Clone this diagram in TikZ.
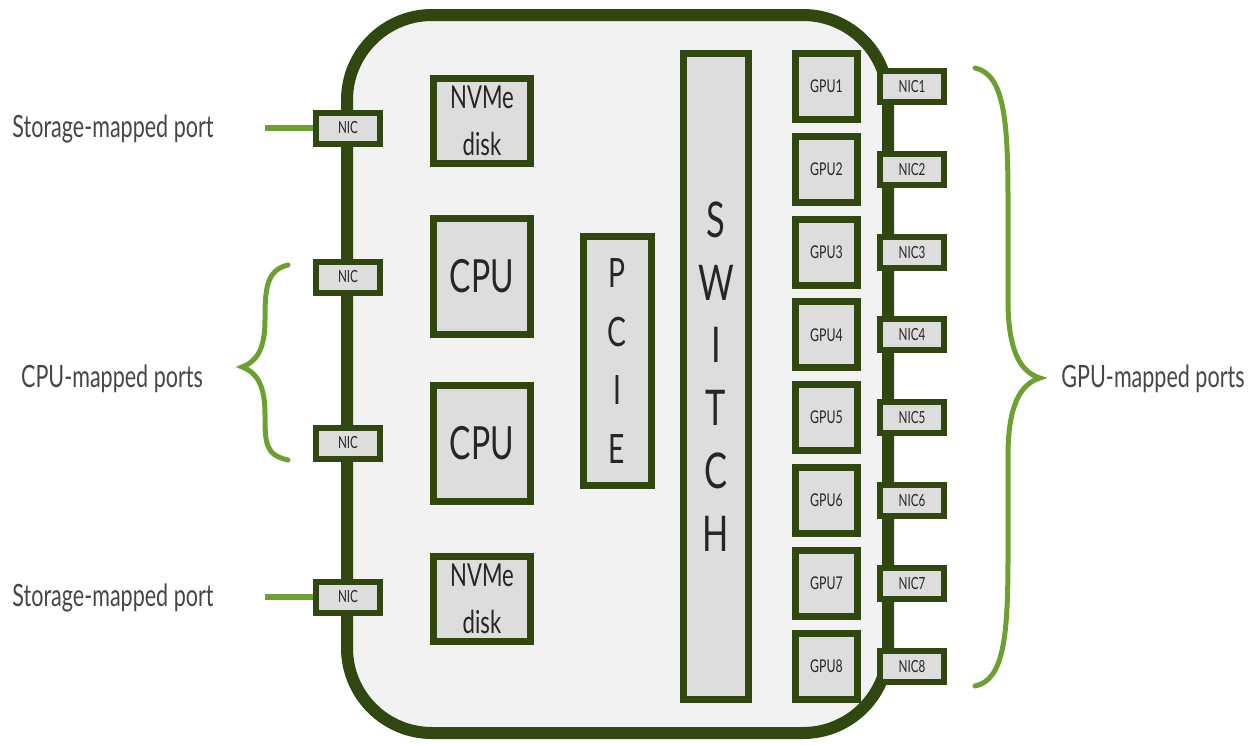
\documentclass[tikz,border=0pt]{standalone}
\usepackage{fontspec}
\setmainfont{Lato}[FakeStretch=0.7]
\usetikzlibrary{positioning}

\definecolor{chassis}{RGB}{48,72,16}
\definecolor{port}{RGB}{108,160,48}
\definecolor{boxfill}{RGB}{221,221,221}
\definecolor{boardfill}{RGB}{242,242,242}
\definecolor{labelgray}{RGB}{70,70,70}

\newlength\pu
\setlength\pu{0.02cm}

\tikzset{
    part/.style={draw=chassis, fill=boxfill, line width=7\pu, inner sep=0pt, align=center, text=black!85},
    nicbox/.style={part, line width=6\pu, minimum width=64\pu, minimum height=31\pu, font=\fontsize{9.5}{9.5}\selectfont},
    gpubox/.style={part, minimum width=62\pu, minimum height=66\pu, font=\fontsize{10}{10}\selectfont},
    portlabel/.style={text=labelgray, anchor=base, font=\fontsize{17.5}{20}\selectfont},
    portline/.style={draw=port, line width=6\pu},
    brace/.style={draw=port, line width=5\pu, line cap=round}
}

\begin{document}
\begin{tikzpicture}[x=\pu, y=-\pu]
    \useasboundingbox (0,0) rectangle (1260,744);
    % Chassis
    \draw[draw=chassis, fill=boardfill, line width=12\pu, rounded corners=85\pu] (347,15) rectangle (888,733);

    % Storage and CPU boxes
    \node[part, minimum width=97\pu, minimum height=85\pu, font=\fontsize{18}{27}\selectfont] (nvme1) at (482,121) {NVMe\\disk};
    \node[part, minimum width=97\pu, minimum height=116\pu, font=\fontsize{26}{26}\selectfont] (cpu1) at (482,276) {CPU};
    \node[part, minimum width=97\pu, minimum height=116\pu, font=\fontsize{26}{26}\selectfont] (cpu2) at (482,443) {CPU};
    \node[part, minimum width=97\pu, minimum height=85\pu, font=\fontsize{18}{27}\selectfont] (nvme2) at (482,599) {NVMe\\disk};

    % PCIe and switch
    \node[part, minimum width=68\pu, minimum height=249\pu, font=\fontsize{23}{33.5}\selectfont] (pcie) at (617,361) {P\\C\\I\\E};
    \node[part, minimum width=65\pu, minimum height=646\pu, font=\fontsize{28}{35.7}\selectfont] (switch) at (716,376.5) {S\\W\\I\\T\\C\\H};

    % GPUs and their NICs
    \foreach \i in {1,...,8} {
        \node[gpubox] (gpu\i) at (826.5, {86.5+(\i-1)*82.8}) {GPU\i};
        \node[nicbox] (nic\i) at (912, {86.5+(\i-1)*82.8}) {NIC\i};
    }

    % Left NICs
    \node[nicbox] (nics1) at (348,128) {NIC};
    \node[nicbox] (nicc1) at (348,277) {NIC};
    \node[nicbox] (nicc2) at (348,443) {NIC};
    \node[nicbox] (nics2) at (348,597) {NIC};

    % Storage ports
    \node[portlabel] (stor1) at (113,137) {Storage-mapped port};
    \node[portlabel] (stor2) at (113,606) {Storage-mapped port};
    \coordinate (portend1) at (265,128);
    \coordinate (portend2) at (265,597);
    \draw[portline] (portend1) -- (nics1.west);
    \draw[portline] (portend2) -- (nics2.west);

    % CPU-mapped ports
    \draw[brace] (288,265) .. controls (266,270) and (265,290) .. (265,320)
        .. controls (265,350) and (256,362) .. (242,367)
        .. controls (256,372) and (265,384) .. (265,414)
        .. controls (265,445) and (266,455) .. (288,460);
    \node[portlabel] (cpulabel) at (112,387) {CPU-mapped ports};

    % GPU-mapped ports
    \draw[brace] (975,68) .. controls (1004,74) and (1008,120) .. (1008,200) -- (1008,300)
        .. controls (1008,350) and (1020,372) .. (1040,378)
        .. controls (1020,384) and (1008,406) .. (1008,456) -- (1008,556)
        .. controls (1008,636) and (1004,680) .. (975,686);
    \node[portlabel] (gpulabel) at (1153,387) {GPU-mapped ports};
\end{tikzpicture}
\end{document}
